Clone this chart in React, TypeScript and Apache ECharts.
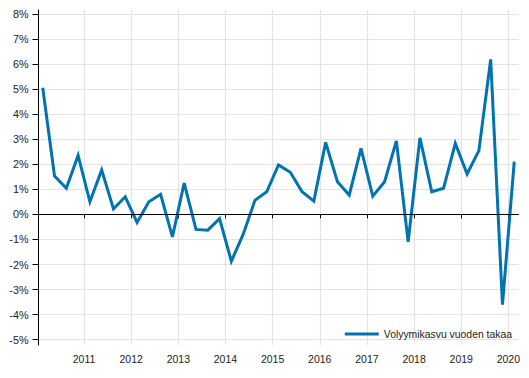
import React, { useEffect, useRef } from "react";
import * as echarts from "echarts";

const quarters = [
  "2010Q1", "2010Q2", "2010Q3", "2010Q4",
  "2011Q1", "2011Q2", "2011Q3", "2011Q4",
  "2012Q1", "2012Q2", "2012Q3", "2012Q4",
  "2013Q1", "2013Q2", "2013Q3", "2013Q4",
  "2014Q1", "2014Q2", "2014Q3", "2014Q4",
  "2015Q1", "2015Q2", "2015Q3", "2015Q4",
  "2016Q1", "2016Q2", "2016Q3", "2016Q4",
  "2017Q1", "2017Q2", "2017Q3", "2017Q4",
  "2018Q1", "2018Q2", "2018Q3", "2018Q4",
  "2019Q1", "2019Q2", "2019Q3", "2019Q4",
  "2020Q1",
];

const growth = [
  5.05, 1.53, 1.04, 2.35,
  0.5, 1.77, 0.22, 0.7,
  -0.32, 0.5, 0.8, -0.9,
  1.25, -0.6, -0.63, -0.17,
  -1.87, -0.8, 0.56, 0.9,
  1.97, 1.68, 0.9, 0.53,
  2.87, 1.3, 0.77, 2.63,
  0.72, 1.3, 2.93, -1.1,
  3.05, 0.9, 1.04, 2.83,
  1.61, 2.54, 6.18, -3.6,
  2.1,
];

const yearTicks = [2011, 2012, 2013, 2014, 2015, 2016, 2017, 2018, 2019, 2020];
const percentTicks = [-5, -4, -3, -2, -1, 0, 1, 2, 3, 4, 5, 6, 7, 8];
const seriesName = "Volyymikasvu vuoden takaa";

function quarterPos(label: string): number {
  const year = parseInt(label.slice(0, 4), 10);
  const q = parseInt(label.slice(5), 10);
  return year + (q - 0.5) / 4;
}

const FONT = "'Liberation Sans', Arial, sans-serif";

export default function App() {
  const ref = useRef<HTMLDivElement>(null);
  useEffect(() => {
    document.body.style.margin = "0";
    if (!ref.current) return;
    const chart = echarts.init(ref.current, null, { renderer: "svg" });
    const data = quarters.map((q, i) => [quarterPos(q), growth[i]]);
    chart.setOption({
      animation: false,
      backgroundColor: "#ffffff",
      textStyle: { fontFamily: FONT },
      grid: { left: 38.5, right: 10.5, top: 10, bottom: 33, containLabel: false },
      legend: {
        show: true,
        right: 17,
        top: 327,
        padding: 0,
        icon: "rect",
        itemWidth: 34,
        itemHeight: 3,
        itemGap: 5,
        textStyle: { fontSize: 10.4, color: "#222", fontFamily: FONT, lineHeight: 14 },
        data: [seriesName],
      },
      xAxis: {
        type: "value",
        min: 2010.035,
        max: 2020.215,
        axisLine: { show: true, lineStyle: { color: "#000", width: 1 } },
        axisTick: { show: true, length: 4, customValues: yearTicks, lineStyle: { color: "#000" } },
        axisLabel: {
          show: true,
          customValues: yearTicks,
          fontSize: 10.5,
          color: "#222",
          margin: 8,
          fontFamily: FONT,
          formatter: (v: number) => String(Math.round(v)),
        },
        splitLine: { show: true, lineStyle: { color: "#e3e3e3", width: 1.2 } },
      },
      yAxis: {
        type: "value",
        min: -5.21,
        max: 8.15,
        axisLine: { show: true, lineStyle: { color: "#000", width: 1 } },
        axisTick: { show: true, length: 6, customValues: percentTicks, lineStyle: { color: "#000" } },
        axisLabel: {
          show: true,
          customValues: percentTicks,
          fontSize: 10.8,
          color: "#222",
          margin: 10,
          fontFamily: FONT,
          formatter: (v: number) => `${Math.round(v)}%`,
        },
        splitLine: { show: true, lineStyle: { color: "#e3e3e3", width: 1.2 } },
      },
      series: [
        {
          name: seriesName,
          type: "line",
          data,
          symbol: "none",
          color: "#0073b0",
          lineStyle: { color: "#0073b0", width: 3, join: "miter", miterLimit: 10 },
          markLine: {
            silent: true,
            symbol: "none",
            label: { show: false },
            lineStyle: { color: "#000", width: 1, type: "solid" },
            data: [{ yAxis: 0 }],
          },
          z: 3,
        },
      ],
    });
    return () => chart.dispose();
  }, []);
  return <div ref={ref} style={{ width: 529, height: 378 }} />;
}
